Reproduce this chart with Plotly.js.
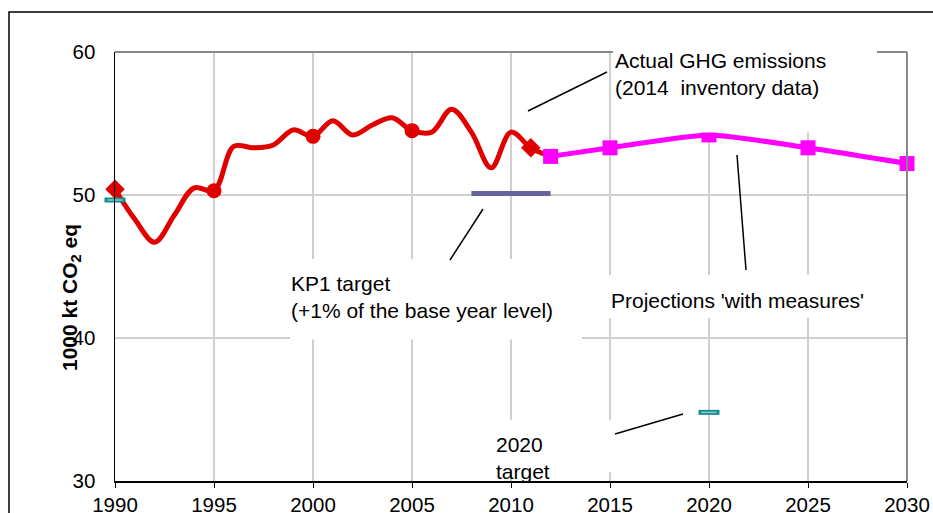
<!DOCTYPE html>
<html>
<head>
<meta charset="utf-8">
<script src="https://cdn.plot.ly/plotly-3.0.1.min.js"></script>
<style>html,body{margin:0;padding:0;background:#fff;}#chart{width:933px;height:513px;}</style>
</head>
<body>
<div id="chart"></div>
<script>
// ---- data ----
const actualYears = [1990,1991,1992,1993,1994,1995,1996,1997,1998,1999,2000,2001,2002,2003,2004,2005,2006,2007,2008,2009,2010,2011,2012];
const actualValues = [50.4,48.3,46.7,48.6,50.5,50.3,53.4,53.3,53.5,54.55,54.1,55.2,54.2,54.9,55.4,54.5,54.4,56.0,54.4,51.9,54.4,53.3,52.7];
const actualMarkerYears = [1990,1995,2000,2005,2011];
const actualMarkerSymbols = ['diamond','circle','circle','circle','diamond'];
const projYears = [2012,2015,2020,2025,2030];
const projValues = [52.7,53.3,54.2,53.3,52.2];
const kp1Years = [2008,2012];
const kp1Values = [50.1,50.1];
const targetYears = [1990,2020];
const targetValues = [49.65,34.8];
const xTicks = [1990,1995,2000,2005,2010,2015,2020,2025,2030];
const yTicks = [30,40,50,60];

// ---- geometry helpers (pixel -> paper) ----
const L = 115, R = 26, T = 52, B = 32, W = 933, H = 513;
const PW = W - L - R, PH = H - T - B;
const px = x => (x - L) / PW;
const py = y => (H - B - y) / PH;
const FONT = 'Liberation Sans, Arial, sans-serif';

const markerSizes = actualYears.map(y => actualMarkerYears.includes(y) ? 15 : 0);
const markerSyms = actualYears.map(y => {
  const i = actualMarkerYears.indexOf(y);
  return i >= 0 ? actualMarkerSymbols[i] : 'circle';
});

const traces = [
  {x: actualYears, y: actualValues, type: 'scatter', mode: 'lines+markers', cliponaxis: false,
   line: {color: '#e00000', width: 5, shape: 'spline', smoothing: 1},
   marker: {color: '#e00000', size: markerSizes, symbol: markerSyms, opacity: 1, line: {width: 0}}},
  {x: projYears, y: projValues, type: 'scatter', mode: 'lines+markers', cliponaxis: false,
   line: {color: '#ff00ff', width: 5, shape: 'spline', smoothing: 0.6},
   marker: {color: '#ff00ff', size: 15, symbol: 'square', opacity: 1}},
  {x: kp1Years, y: kp1Values, type: 'scatter', mode: 'lines', cliponaxis: false,
   line: {color: '#646498', width: 5}},
  {x: targetYears, y: targetValues, type: 'scatter', mode: 'markers', cliponaxis: false,
   marker: {symbol: 'line-ew', size: 15, line: {color: '#168a8a', width: 5}}},
  {x: targetYears, y: targetValues, type: 'scatter', mode: 'markers', cliponaxis: false,
   marker: {symbol: 'line-ew', size: 11, line: {color: '#7fcfcf', width: 1.5}}}
];

const lineBlack = {color: '#000', width: 1.5};
const shapes = [
  // outer frame
  {type: 'rect', xref: 'paper', yref: 'paper', x0: px(9), x1: px(945), y0: py(530), y1: py(12),
   line: {color: '#000', width: 1.5}, fillcolor: 'rgba(0,0,0,0)', layer: 'above'},
  // top & right plot borders (gray)
  {type: 'line', xref: 'paper', yref: 'paper', x0: 0, x1: 1, y0: 1, y1: 1, line: {color: '#888', width: 2}, layer: 'above'},
  {type: 'line', xref: 'paper', yref: 'paper', x0: 1, x1: 1, y0: 0, y1: 1, line: {color: '#888', width: 2}, layer: 'above'},
  // white label boxes
  {type: 'rect', xref: 'paper', yref: 'paper', x0: px(613), x1: px(877), y0: py(132.5), y1: py(38), line: {width: 0}, fillcolor: '#fff', layer: 'above'},
  {type: 'rect', xref: 'paper', yref: 'paper', x0: px(290), x1: px(582), y0: py(339.5), y1: py(259), line: {width: 0}, fillcolor: '#fff', layer: 'above'},
  {type: 'rect', xref: 'paper', yref: 'paper', x0: px(606), x1: px(880), y0: py(318), y1: py(275), line: {width: 0}, fillcolor: '#fff', layer: 'above'},
  {type: 'rect', xref: 'paper', yref: 'paper', x0: px(490), x1: px(613), y0: py(472), y1: py(420), line: {width: 0}, fillcolor: '#fff', layer: 'above'},
  // leader lines
  {type: 'line', xref: 'paper', yref: 'paper', x0: px(528), y0: py(111), x1: px(607), y1: py(72), line: lineBlack, layer: 'above'},
  {type: 'line', xref: 'paper', yref: 'paper', x0: px(483), y0: py(209), x1: px(450), y1: py(260), line: lineBlack, layer: 'above'},
  {type: 'line', xref: 'paper', yref: 'paper', x0: px(737), y0: py(155), x1: px(746), y1: py(270), line: lineBlack, layer: 'above'},
  {type: 'line', xref: 'paper', yref: 'paper', x0: px(615), y0: py(434), x1: px(683), y1: py(414), line: lineBlack, layer: 'above'}
];

const annFont = {family: FONT, size: 21, color: '#000'};
const ann = (text, x, y) => ({text: text, xref: 'paper', yref: 'paper', x: px(x), y: py(y),
  xanchor: 'left', yanchor: 'middle', align: 'left', showarrow: false, font: annFont, borderpad: 0});
const annotations = [
  ann('Actual GHG emissions<br>(2014  inventory data)', 614, 74),
  ann('KP1 target<br>(+1% of the base year level)', 290, 297),
  ann("Projections 'with measures'", 610, 300.5),
  ann('2020<br>target', 495, 458),
  {text: '<b>1000 kt CO<sub>2</sub> eq</b>', xref: 'paper', yref: 'paper', x: px(71), y: py(298),
   xanchor: 'center', yanchor: 'middle', textangle: -90, showarrow: false,
   font: {family: FONT, size: 21, color: '#000'}}
];

const layout = {
  width: W, height: H,
  margin: {l: L, r: R, t: T, b: B},
  paper_bgcolor: '#fff', plot_bgcolor: '#fff',
  showlegend: false,
  font: {family: FONT, size: 20, color: '#000'},
  xaxis: {range: [1990, 2030], tickvals: xTicks, ticktext: xTicks.map(String),
    showgrid: true, gridcolor: '#d0d0d0', gridwidth: 1.5, zeroline: false,
    showline: true, linecolor: '#000', linewidth: 1.5,
    ticks: 'outside', ticklen: 5, tickcolor: '#000', tickwidth: 1,
    tickfont: {family: FONT, size: 20.5, color: '#000'}},
  yaxis: {range: [30, 60], tickvals: yTicks, ticktext: yTicks.map(String),
    showgrid: true, gridcolor: '#d0d0d0', gridwidth: 1.5, zeroline: false,
    showline: true, linecolor: '#000', linewidth: 1.5,
    ticks: '', ticklabelstandoff: 14,
    tickfont: {family: FONT, size: 20.5, color: '#000'}},
  shapes: shapes,
  annotations: annotations
};

Plotly.newPlot('chart', traces, layout, {displayModeBar: false, staticPlot: true});
</script>
</body>
</html>
